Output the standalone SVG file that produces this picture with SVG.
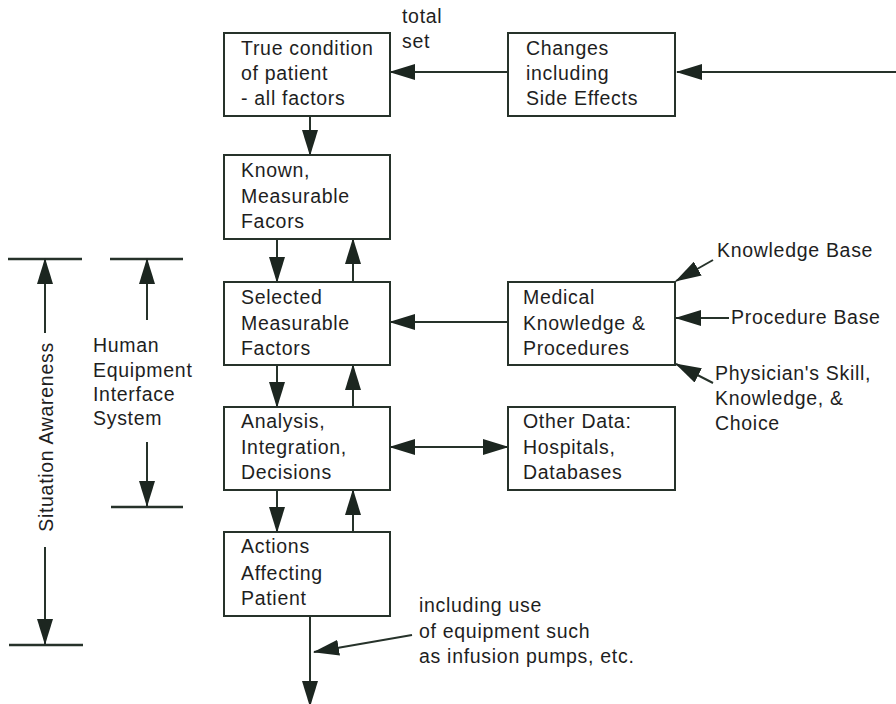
<svg xmlns="http://www.w3.org/2000/svg" width="896" height="704" viewBox="0 0 896 704">
  <style>
    .box { fill: #ffffff; stroke: #26322a; stroke-width: 2; }
    .ln { fill: none; stroke: #26322a; stroke-width: 2; }
    .bar { fill: none; stroke: #26322a; stroke-width: 2.5; }
    text { font-family: "Liberation Sans", Arial, Helvetica, sans-serif; font-size: 19.5px; fill: #1e1e1e; letter-spacing: 0.7px; }
  </style>
  <defs>
    <marker id="arrow" markerUnits="userSpaceOnUse" markerWidth="26" markerHeight="16" refX="25" refY="8" orient="auto-start-reverse">
      <path d="M0,0 L26,8 L0,16 z" fill="#1c2620"/>
    </marker>
  </defs>

  <rect width="896" height="704" fill="#ffffff"/>

  <!-- connectors -->
  <g id="connectors">
    <line class="ln" x1="896" y1="72" x2="677" y2="72" marker-end="url(#arrow)"/>
    <line class="ln" x1="507" y1="72" x2="390" y2="72" marker-end="url(#arrow)"/>
    <line class="ln" x1="310" y1="116" x2="310" y2="155" marker-end="url(#arrow)"/>
    <line class="ln" x1="277" y1="239" x2="277" y2="282" marker-end="url(#arrow)"/>
    <line class="ln" x1="353" y1="282" x2="353" y2="239" marker-end="url(#arrow)"/>
    <line class="ln" x1="508" y1="322" x2="390" y2="322" marker-end="url(#arrow)"/>
    <line class="ln" x1="713" y1="260" x2="676" y2="281" marker-end="url(#arrow)"/>
    <line class="ln" x1="729" y1="318" x2="676" y2="318" marker-end="url(#arrow)"/>
    <line class="ln" x1="713" y1="383" x2="676" y2="364" marker-end="url(#arrow)"/>
    <line class="ln" x1="277" y1="365" x2="277" y2="407" marker-end="url(#arrow)"/>
    <line class="ln" x1="353" y1="407" x2="353" y2="365" marker-end="url(#arrow)"/>
    <line class="ln" x1="390" y1="447" x2="508" y2="447" marker-start="url(#arrow)" marker-end="url(#arrow)"/>
    <line class="ln" x1="277" y1="490" x2="277" y2="532" marker-end="url(#arrow)"/>
    <line class="ln" x1="353" y1="532" x2="353" y2="490" marker-end="url(#arrow)"/>
    <line class="ln" x1="310" y1="616" x2="310" y2="706" marker-end="url(#arrow)"/>
    <line class="ln" x1="412" y1="635" x2="314" y2="652" marker-end="url(#arrow)"/>
  </g>

  <!-- extent bars on the left -->
  <g id="situation-awareness">
    <line class="bar" x1="8" y1="259" x2="82" y2="259"/>
    <line class="bar" x1="9" y1="645" x2="83" y2="645"/>
    <line class="ln" x1="45" y1="333" x2="45" y2="259" marker-end="url(#arrow)"/>
    <line class="ln" x1="45" y1="547" x2="45" y2="644" marker-end="url(#arrow)"/>
    <text transform="translate(53,437) rotate(-90)" text-anchor="middle">Situation Awareness</text>
  </g>
  <g id="human-equipment-interface">
    <line class="bar" x1="110" y1="259" x2="183" y2="259"/>
    <line class="bar" x1="111" y1="507" x2="183" y2="507"/>
    <line class="ln" x1="147" y1="320" x2="147" y2="259" marker-end="url(#arrow)"/>
    <line class="ln" x1="147" y1="442" x2="147" y2="506" marker-end="url(#arrow)"/>
    <text x="93" y="352">Human</text>
    <text x="93" y="377">Equipment</text>
    <text x="93" y="401">Interface</text>
    <text x="93" y="425">System</text>
  </g>

  <!-- nodes -->
  <g id="n-true-condition">
    <rect class="box" x="224" y="33" width="166" height="83"/>
    <text x="241" y="55">True condition</text>
    <text x="241" y="80">of patient</text>
    <text x="241" y="105">- all factors</text>
  </g>
  <g id="n-changes">
    <rect class="box" x="508" y="33" width="167" height="83"/>
    <text x="526" y="55">Changes</text>
    <text x="526" y="80">including</text>
    <text x="526" y="105">Side Effects</text>
  </g>
  <g id="n-known">
    <rect class="box" x="224" y="155" width="166" height="84"/>
    <text x="241" y="177">Known,</text>
    <text x="241" y="203">Measurable</text>
    <text x="241" y="228">Facors</text>
  </g>
  <g id="n-selected">
    <rect class="box" x="224" y="282" width="166" height="83"/>
    <text x="241" y="304">Selected</text>
    <text x="241" y="330">Measurable</text>
    <text x="241" y="355">Factors</text>
  </g>
  <g id="n-medical">
    <rect class="box" x="508" y="282" width="167" height="83"/>
    <text x="523" y="304">Medical</text>
    <text x="523" y="330">Knowledge &amp;</text>
    <text x="523" y="355">Procedures</text>
  </g>
  <g id="n-analysis">
    <rect class="box" x="224" y="407" width="166" height="83"/>
    <text x="241" y="428">Analysis,</text>
    <text x="241" y="454">Integration,</text>
    <text x="241" y="479">Decisions</text>
  </g>
  <g id="n-other-data">
    <rect class="box" x="508" y="407" width="167" height="83"/>
    <text x="523" y="428">Other Data:</text>
    <text x="523" y="454">Hospitals,</text>
    <text x="523" y="479">Databases</text>
  </g>
  <g id="n-actions">
    <rect class="box" x="224" y="532" width="166" height="84"/>
    <text x="241" y="553">Actions</text>
    <text x="241" y="580">Affecting</text>
    <text x="241" y="605">Patient</text>
  </g>

  <!-- free labels -->
  <g id="labels">
    <text x="402" y="23">total</text>
    <text x="402" y="48">set</text>
    <text x="717" y="257">Knowledge Base</text>
    <text x="731" y="324">Procedure Base</text>
    <text x="715" y="380">Physician's Skill,</text>
    <text x="715" y="405">Knowledge, &amp;</text>
    <text x="715" y="430">Choice</text>
    <text x="419" y="612">including use</text>
    <text x="419" y="638">of equipment such</text>
    <text x="419" y="663">as infusion pumps, etc.</text>
  </g>
</svg>
